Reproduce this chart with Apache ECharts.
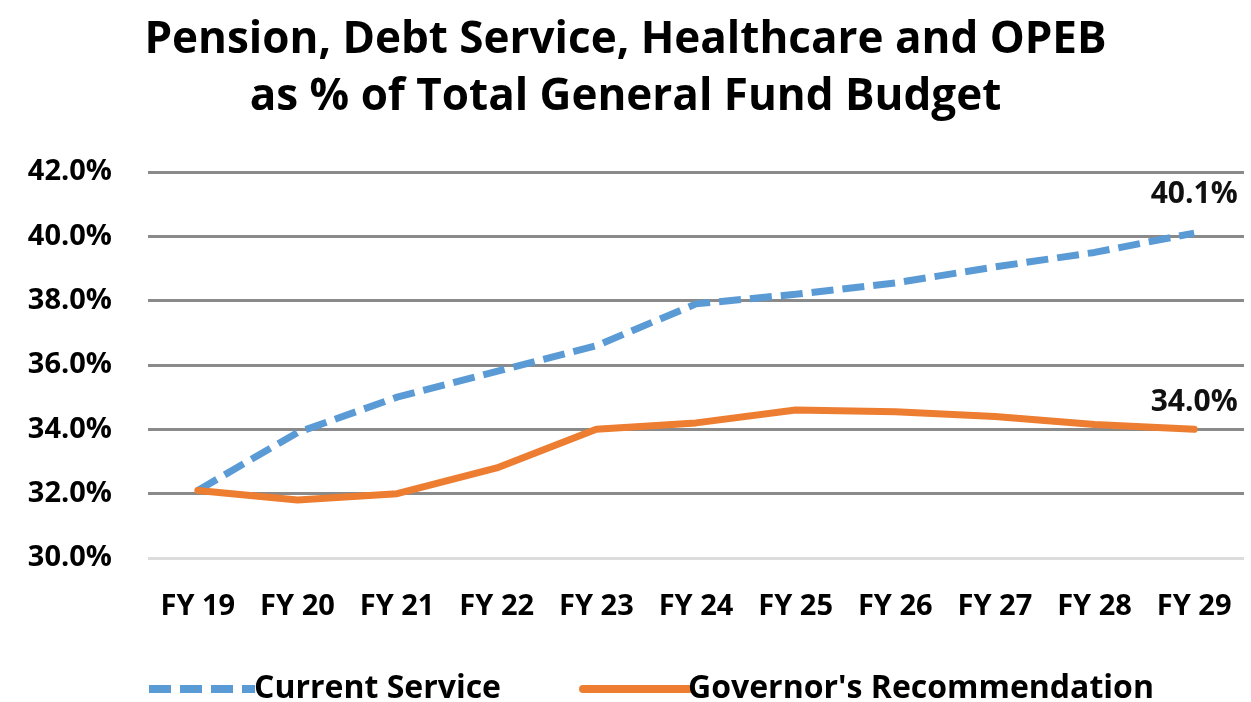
<!DOCTYPE html>
<html>
<head>
<meta charset="utf-8">
<script src="https://cdn.jsdelivr.net/npm/echarts@6/dist/echarts.min.js"></script>
<style>
html,body{margin:0;padding:0;background:#fff;}
#chart{width:1251px;height:702px;}
</style>
</head>
<body>
<div id="chart"></div>
<script>
const categories = ['FY 19','FY 20','FY 21','FY 22','FY 23','FY 24','FY 25','FY 26','FY 27','FY 28','FY 29'];
const currentService = [32.1, 33.9, 35.0, 35.8, 36.6, 37.9, 38.2, 38.55, 39.05, 39.5, 40.1];
const governorsRec = [32.1, 31.8, 32.0, 32.8, 34.0, 34.2, 34.6, 34.55, 34.4, 34.15, 34.0];
const yTicks = [30, 32, 34, 36, 38, 40, 42];

const FONT = '"Open Sans", sans-serif';
const chart = echarts.init(document.getElementById('chart'));
const endLbl = (dy) => ({
  show: true, align: 'center', verticalAlign: 'bottom', distance: 0, offset: [0, dy],
  fontFamily: FONT, fontWeight: 'bold', fontSize: 30, color: '#111',
  formatter: (p) => Number(p.value).toFixed(1) + '%'
});
chart.setOption({
  animation: false,
  title: {
    text: 'Pension, Debt Service, Healthcare and OPEB\nas % of Total General Fund Budget',
    left: 'center', top: 7,
    textStyle: { fontFamily: FONT, fontWeight: 'bold', fontSize: 44, lineHeight: 57, color: '#000' }
  },
  grid: { left: 148, right: 7, top: 172, bottom: 144, containLabel: false },
  legend: {
    top: 668, left: 140, itemGap: 78, itemWidth: 106, itemHeight: 8,
    itemStyle: { opacity: 0 },
    lineStyle: { width: 8 },
    textStyle: { fontFamily: FONT, fontWeight: 'bold', fontSize: 32, color: '#000', padding: [0,0,0,-6] },
    data: ['Current Service', "Governor's Recommendation"]
  },
  xAxis: {
    type: 'category', data: categories, boundaryGap: true,
    axisLine: { show: false }, axisTick: { show: false },
    axisLabel: { interval: 0, fontFamily: FONT, fontWeight: 'bold', fontSize: 29, color: '#000', margin: 34 }
  },
  yAxis: {
    type: 'value', min: yTicks[0], max: yTicks[yTicks.length - 1], interval: 2,
    axisLine: { show: false }, axisTick: { show: false },
    axisLabel: { fontFamily: FONT, fontWeight: 'bold', fontSize: 29, color: '#000', margin: 36,
      formatter: (v) => v.toFixed(1) + '%' },
    splitLine: { lineStyle: { color: ['#dcdcdc', '#8a8a8a', '#8a8a8a', '#8a8a8a', '#8a8a8a', '#8a8a8a', '#8a8a8a'], width: 3 } }
  },
  series: [
    {
      name: 'Current Service', type: 'line', data: currentService, symbol: 'none',
      lineStyle: { color: '#5b9bd5', width: 7, type: [22, 9] },
      itemStyle: { color: '#5b9bd5' },
      endLabel: endLbl(-24)
    },
    {
      name: "Governor's Recommendation", type: 'line', data: governorsRec, symbol: 'none',
      lineStyle: { color: '#ed7d31', width: 7, cap: 'round', join: 'round' },
      itemStyle: { color: '#ed7d31' },
      endLabel: endLbl(-12)
    }
  ]
});
</script>
</body>
</html>
